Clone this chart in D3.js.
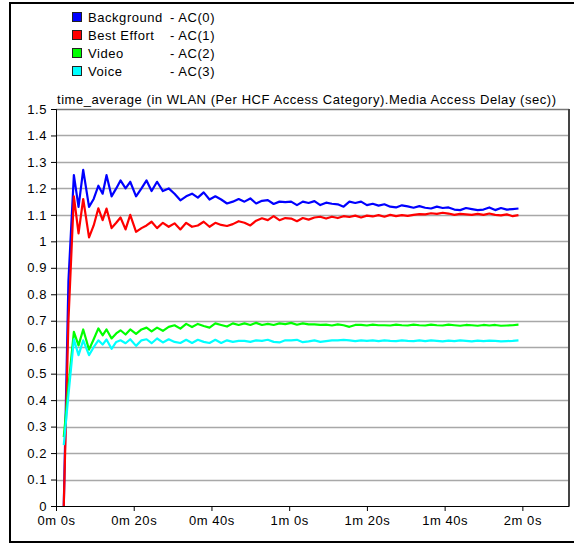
<!DOCTYPE html>
<html>
<head>
<meta charset="utf-8">
<script src="https://cdn.jsdelivr.net/npm/d3@7"></script>
<style>
  html, body { margin: 0; padding: 0; background: #fff; overflow: hidden; }
  svg { display: block; }
  svg text { font-family: "Liberation Sans", Arial, sans-serif; font-size: 13px; letter-spacing: 0.55px; fill: #000; }
</style>
</head>
<body>
<div id="plot"></div>
<script>
// ############ DATA ###############

const seriesNames = ["Background", "Best Effort", "Video", "Voice"];
const seriesCodes = ["- AC(0)", "- AC(1)", "- AC(2)", "- AC(3)"];
const seriesColors = ["#0000ff", "#ff0000", "#00ff00", "#00ffff"];

const titleText = "time_average (in WLAN (Per HCF Access Category).Media Access Delay (sec))";

const yTicks = [0, 0.1, 0.2, 0.3, 0.4, 0.5, 0.6, 0.7, 0.8, 0.9, 1, 1.1, 1.2, 1.3, 1.4, 1.5];
const xTicks = [0, 20, 40, 60, 80, 100, 120];
const xTickLabels = ["0m 0s", "0m 20s", "0m 40s", "1m 0s", "1m 20s", "1m 40s", "2m 0s"];

// sample times (seconds)
const times = [
  2, 3.2, 4.6, 5.8, 7, 8.5, 9.7, 10.9, 12, 13,
  14.3, 15.5, 16.6, 17.9, 19.1, 20.6, 22, 23.3, 24.6,
  26, 27.5, 29, 30.5, 32, 33.5, 35, 36.5, 38, 39.5,
  41, 42.5, 44, 45.5, 47, 48.5, 50, 51.5, 53, 54.5,
  56, 57.5, 59, 60.5, 62, 63.5, 65, 66.5, 68, 69.5,
  71, 72.5, 74, 75.5, 77, 78.5, 80, 81.5, 83, 84.5,
  86, 87.5, 89, 90.5, 92, 93.5, 95, 96.5, 98, 99.5,
  101, 102.5, 104, 105.5, 107, 108.5, 110, 111.5, 113, 114.5,
  116, 117.5, 119
];

const background = [
  0, 0.85, 1.25, 1.13, 1.27, 1.13, 1.16, 1.21, 1.18, 1.25,
  1.17, 1.2, 1.23, 1.2, 1.225, 1.17, 1.2, 1.23, 1.19,
  1.225, 1.19, 1.2, 1.18, 1.155, 1.17, 1.18, 1.165, 1.185, 1.158,
  1.17, 1.158, 1.143, 1.15, 1.16, 1.15, 1.162, 1.143, 1.153, 1.156,
  1.141, 1.15, 1.148, 1.15, 1.137, 1.15, 1.145, 1.152, 1.137, 1.146,
  1.142, 1.14, 1.131, 1.15, 1.145, 1.15, 1.137, 1.142, 1.135, 1.14,
  1.131, 1.128, 1.136, 1.132, 1.127, 1.133, 1.127, 1.124, 1.131, 1.126,
  1.128, 1.12, 1.118, 1.126, 1.122, 1.118, 1.12, 1.128, 1.118, 1.126,
  1.12, 1.122, 1.124
];

const bestEffort = [
  0, 0.7, 1.17, 1.03, 1.16, 1.015, 1.06, 1.125, 1.08, 1.124,
  1.05, 1.07, 1.09, 1.045, 1.1, 1.036, 1.05, 1.06, 1.074,
  1.05, 1.07, 1.055, 1.068, 1.045, 1.07, 1.055, 1.06, 1.074, 1.055,
  1.07, 1.062, 1.058, 1.065, 1.076, 1.07, 1.06, 1.078, 1.087, 1.08,
  1.095, 1.08, 1.088, 1.086, 1.076, 1.088, 1.082, 1.09, 1.093, 1.086,
  1.093, 1.088, 1.095, 1.092, 1.097, 1.09, 1.097, 1.094, 1.099, 1.093,
  1.1, 1.095, 1.099, 1.096, 1.1, 1.103, 1.102, 1.106, 1.104, 1.108,
  1.105, 1.1, 1.104, 1.102, 1.1, 1.104, 1.1, 1.105, 1.1, 1.098,
  1.102, 1.095, 1.099
];

const video = [
  0.26, 0.45, 0.658, 0.607, 0.667, 0.591, 0.63, 0.671, 0.645, 0.667,
  0.633, 0.652, 0.664, 0.648, 0.667, 0.65, 0.667, 0.674, 0.66,
  0.674, 0.662, 0.677, 0.683, 0.67, 0.688, 0.676, 0.688, 0.68, 0.674,
  0.69, 0.684, 0.678, 0.69, 0.684, 0.69, 0.684, 0.692, 0.684, 0.688,
  0.684, 0.69, 0.687, 0.692, 0.685, 0.69, 0.686, 0.686, 0.684, 0.685,
  0.682, 0.686, 0.683, 0.677, 0.684, 0.684, 0.682, 0.685, 0.683, 0.683,
  0.682, 0.685, 0.683, 0.682, 0.685, 0.683, 0.682, 0.685, 0.683, 0.682,
  0.685, 0.683, 0.681, 0.684, 0.683, 0.681, 0.684, 0.682, 0.684, 0.681,
  0.682, 0.683, 0.685
];

const voice = [
  0.23, 0.42, 0.63, 0.57, 0.626, 0.57, 0.6, 0.626, 0.61, 0.629,
  0.594, 0.62, 0.626, 0.615, 0.63, 0.605, 0.626, 0.63, 0.615,
  0.633, 0.618, 0.63, 0.62, 0.616, 0.628, 0.616, 0.628, 0.62, 0.616,
  0.628, 0.616, 0.626, 0.62, 0.624, 0.624, 0.62, 0.626, 0.624, 0.628,
  0.62, 0.618, 0.626, 0.626, 0.628, 0.619, 0.622, 0.626, 0.62, 0.623,
  0.626, 0.626, 0.628, 0.626, 0.623, 0.626, 0.624, 0.626, 0.623, 0.626,
  0.624, 0.623, 0.626, 0.624, 0.623, 0.626, 0.623, 0.626, 0.624, 0.622,
  0.625, 0.623, 0.626, 0.624, 0.622, 0.625, 0.623, 0.625, 0.624, 0.622,
  0.623, 0.624, 0.626
];

const seriesValues = [background, bestEffort, video, voice];

// ############ SETUP ###############

const w = 574, h = 544;
const margin = {left: 56, top: 109, right: 5, bottom: 38};
const innerWidth = w - margin.left - margin.right;
const innerHeight = h - margin.top - margin.bottom;

const xScale = d3.scaleLinear().domain([0, 132]).range([0, innerWidth]);
const yScale = d3.scaleLinear().domain([0, 1.5]).range([innerHeight, 0]);

const svg = d3.select("div#plot")
  .append("svg")
  .attr("width", w)
  .attr("height", h);

// outer frame (top, left, bottom edges; right edge is off the picture)
svg.append("path")
  .attr("d", `M${w},3 H10 V542 H${w}`)
  .attr("fill", "none")
  .attr("stroke", "#000")
  .attr("stroke-width", 2);

// legend
const legend = svg.append("g")
  .attr("id", "legend")
  .selectAll("g")
  .data(seriesNames)
  .enter()
  .append("g")
  .attr("transform", (d, i) => `translate(72, ${17 + i * 18})`);

legend.append("rect")
  .attr("x", 0.5)
  .attr("y", -4.5)
  .attr("width", 9)
  .attr("height", 9)
  .attr("fill", (d, i) => seriesColors[i])
  .attr("stroke", "#222");

legend.append("text")
  .attr("x", 16)
  .attr("dy", "0.35em")
  .text(d => d);

legend.append("text")
  .attr("x", 98)
  .attr("dy", "0.35em")
  .text((d, i) => seriesCodes[i]);

// plot area
const plot = svg.append("g")
  .attr("id", "plotarea")
  .attr("transform", `translate( ${margin.left}, ${margin.top} )`);

// title
svg.append("text")
  .attr("x", margin.left + 1)
  .attr("y", margin.top - 5)
  .text(titleText);

// gridlines
plot.append("g")
  .attr("id", "grid")
  .selectAll("line")
  .data(yTicks.filter(d => d > 0))
  .enter()
  .append("line")
    .attr("x1", 0)
    .attr("x2", innerWidth)
    .attr("y1", d => Math.round(yScale(d)) + 0.5)
    .attr("y2", d => Math.round(yScale(d)) + 0.5)
    .attr("stroke", d => d === 1.5 ? "#777" : "#a8a8a8")
    .attr("stroke-width", 1.3);

// right border
plot.append("line")
  .attr("x1", innerWidth)
  .attr("x2", innerWidth)
  .attr("y1", 0)
  .attr("y2", innerHeight)
  .attr("stroke", "#444")
  .attr("stroke-width", 2);

// y-axis
const yAxis = d3.axisLeft(yScale)
  .tickValues(yTicks)
  .tickFormat(d3.format("~g"))
  .tickSize(5)
  .tickPadding(4);

plot.append("g")
  .attr("id", "yaxis")
  .call(yAxis)
  .call(g => g.select(".domain").attr("stroke", "#000"))
  .call(g => g.selectAll("text").attr("font-size", null).attr("font-family", null));

// x-axis
const xAxis = d3.axisBottom(xScale)
  .tickValues(xTicks)
  .tickFormat((d, i) => xTickLabels[i])
  .tickSize(5)
  .tickPadding(5)
  .tickSizeOuter(0);

plot.append("g")
  .attr("id", "xaxis")
  .attr("transform", `translate (0, ${innerHeight})`)
  .call(xAxis)
  .call(g => g.select(".domain").attr("stroke", "#000"))
  .call(g => g.selectAll("text").attr("font-size", null).attr("font-family", null));

// series lines
const line = d3.line()
  .x((d, i) => xScale(times[i]))
  .y(d => yScale(d));

plot.append("g")
  .attr("id", "lines")
  .selectAll("path")
  .data(seriesValues)
  .enter()
  .append("path")
    .attr("d", d => line(d))
    .attr("fill", "none")
    .attr("stroke", (d, i) => seriesColors[i])
    .attr("stroke-width", 2.2)
    .attr("stroke-linejoin", "round");
</script>
</body>
</html>
